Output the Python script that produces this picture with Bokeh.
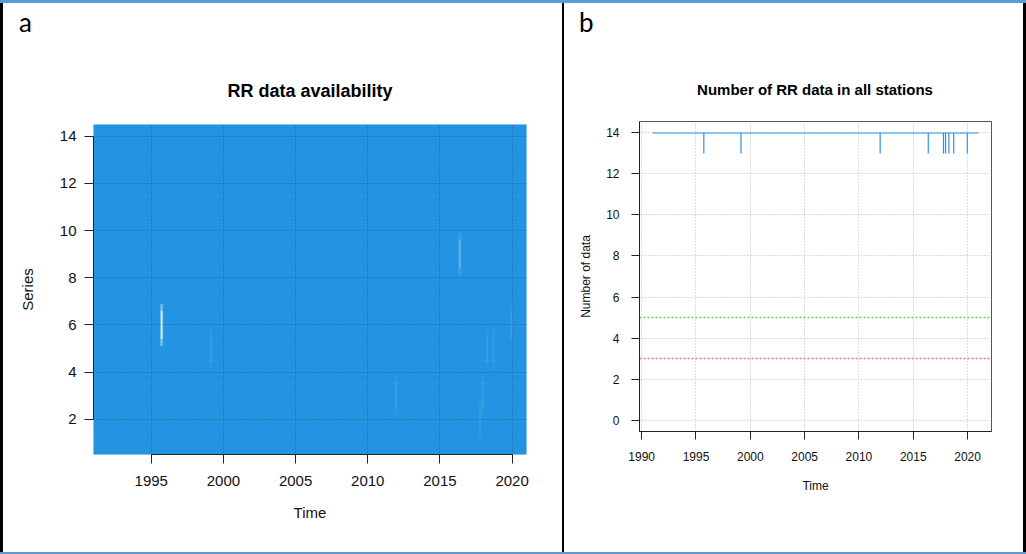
from bokeh.plotting import figure
from bokeh.models import Range1d, FixedTicker, Span, Div, ColumnDataSource
from bokeh.layouts import row, column
from bokeh.embed import file_html
from bokeh.resources import INLINE

# ---------------- data ----------------
series_ids = list(range(1, 15))              # 14 stations
series_start = [1991.0] * 14                 # first year of record
series_end = [2021.0] * 14                   # last year of record

# gaps (decimal year, station, number of missing days)
missing_dates = [1995.72, 1999.14, 2011.95, 2016.38, 2017.78, 2017.97, 2018.28, 2018.72, 2019.97]
missing_series = [6, 5, 3, 9, 2, 3, 5, 5, 6]
missing_days = [6, 1, 1, 3, 1, 1, 1, 1, 1]

threshold_levels = [5, 3]                    # green, red reference lines

a_xticks = [1995, 2000, 2005, 2010, 2015, 2020]
a_yticks = [2, 4, 6, 8, 10, 12, 14]
b_xticks = [1990, 1995, 2000, 2005, 2010, 2015, 2020]
b_yticks = [0, 2, 4, 6, 8, 10, 12, 14]

title_a = "RR data availability"
title_b = "Number of RR data in all stations"
panel_labels = ["a", "b"]

# ---------------- styles ----------------
FONT = "Liberation Sans"
BLUE = "#2294e2"
LINE_BLUE = "#2a93e6"


def header(w, h, letter, letter_left, letter_top, title, title_cx, title_top, title_px):
    html = (
        f'<div style="position:relative;width:{w}px;height:{h}px;overflow:hidden;">'
        f'<div style="position:absolute;left:{letter_left}px;top:{letter_top}px;'
        f'font-family:Lato;font-size:26px;line-height:26px;color:#000;">{letter}</div>'
        f'<div style="position:absolute;left:{title_cx - 200}px;top:{title_top}px;width:400px;'
        f"text-align:center;font-family:'Liberation Sans';font-weight:bold;"
        f'font-size:{title_px}px;line-height:{title_px}px;color:#000;white-space:nowrap;">'
        f'{title}</div></div>')
    return Div(text=html, width=w, height=h, margin=0)


def bar(w, h, color):
    return Div(text="", width=w, height=h, margin=0,
               styles={"background-color": color, "overflow": "hidden"})


# ---------------- panel a ----------------
pa = figure(width=559, height=444, output_backend="svg", toolbar_location=None,
            x_range=Range1d(1991.0, 2021.0), y_range=Range1d(0.5, 14.5),
            min_border_left=90, min_border_right=36, min_border_top=16, min_border_bottom=98)
pa.outline_line_color = None
pa.background_fill_color = "white"
pa.border_fill_color = "white"

src_a = ColumnDataSource(dict(
    x=[(s + e) / 2 for s, e in zip(series_start, series_end)],
    w=[e - s for s, e in zip(series_start, series_end)],
    y=series_ids))
pa.rect(x="x", y="y", width="w", height=1, source=src_a,
        fill_color=BLUE, line_color=BLUE, line_width=0.8)

# gaps: a soft outer streak plus a brighter core
gap_alpha = [min(0.72, 0.06 + 0.0185 * d * d) for d in missing_days]
src_gap = ColumnDataSource(dict(
    x=missing_dates, y=missing_series,
    a=gap_alpha, a2=[0.45 * v for v in gap_alpha]))
pa.rect(x="x", y="y", width=3.0, width_units="screen", height=1.8, source=src_gap,
        fill_color="white", fill_alpha="a2", line_color=None)
pa.rect(x="x", y="y", width=1.6, width_units="screen", height=1.2, source=src_gap,
        fill_color="white", fill_alpha="a", line_color=None)

for ax, ticks in ((pa.xaxis[0], a_xticks), (pa.yaxis[0], a_yticks)):
    ax.ticker = FixedTicker(ticks=ticks)
    ax.bounds = (ticks[0], ticks[-1])
    ax.major_tick_out = 9
    ax.major_tick_in = 0
    ax.minor_tick_out = 0
    ax.minor_tick_in = 0
    ax.axis_line_color = "#222222"
    ax.major_tick_line_color = "#222222"
    ax.major_label_text_font = FONT
    ax.major_label_text_font_size = "15px"
    ax.major_label_text_color = "#111111"
    ax.axis_label_text_font = FONT
    ax.axis_label_text_font_size = "15px"
    ax.axis_label_text_font_style = "normal"
    ax.axis_label_text_color = "#111111"
pa.xaxis.axis_label = "Time"
pa.yaxis.axis_label = "Series"
pa.xaxis.major_label_standoff = 12
pa.xaxis.axis_label_standoff = 15
pa.yaxis.major_label_standoff = 8
pa.yaxis.axis_label_standoff = 21

pa.xgrid.ticker = FixedTicker(ticks=a_xticks)
pa.ygrid.ticker = FixedTicker(ticks=a_yticks)
for g in (pa.xgrid[0], pa.ygrid[0]):
    g.grid_line_color = "#404040"
    g.grid_line_alpha = 0.6
    g.grid_line_dash = "1 2"
    g.grid_line_width = 1
    g.level = "guide"

# ---------------- panel b ----------------
pb = figure(width=459, height=424, output_backend="svg", toolbar_location=None,
            x_range=Range1d(1989.8, 2022.2), y_range=Range1d(-0.56, 14.56),
            min_border_left=75, min_border_right=32, min_border_top=16, min_border_bottom=98)
pb.outline_line_color = "#555555"
pb.outline_line_width = 1
pb.background_fill_color = "white"
pb.border_fill_color = "white"

pb.xgrid.ticker = FixedTicker(ticks=b_xticks)
pb.ygrid.ticker = FixedTicker(ticks=b_yticks)
for g in (pb.xgrid[0], pb.ygrid[0]):
    g.grid_line_color = "#b8b8b8"
    g.grid_line_dash = "1 2"
    g.grid_line_width = 1

n_total = len(series_ids)
events = sorted(set(missing_dates))
xs = [min(series_start)]
ys = [n_total]
for d in events:
    c = n_total - sum(1 for m in missing_dates if m == d)
    xs += [d, d, d]
    ys += [n_total, c, n_total]
xs.append(max(series_end))
ys.append(n_total)
pb.line(xs, ys, line_color=LINE_BLUE, line_width=1.2)

for lvl, col in zip(threshold_levels, ["#5cbf5c", "#ff5c5c"]):
    pb.add_layout(Span(location=lvl, dimension="width", line_color=col,
                       line_dash="2 2", line_width=1.4, line_alpha=0.9))

for ax, ticks in ((pb.xaxis[0], b_xticks), (pb.yaxis[0], b_yticks)):
    ax.ticker = FixedTicker(ticks=ticks)
    ax.major_tick_out = 8
    ax.major_tick_in = 0
    ax.minor_tick_out = 0
    ax.minor_tick_in = 0
    ax.axis_line_color = "#222222"
    ax.major_tick_line_color = "#222222"
    ax.major_label_text_font = FONT
    ax.major_label_text_font_size = "12px"
    ax.major_label_text_color = "#111111"
    ax.axis_label_text_font = FONT
    ax.axis_label_text_font_size = "12px"
    ax.axis_label_text_font_style = "normal"
    ax.axis_label_text_color = "#111111"
pb.xaxis.axis_label = "Time"
pb.yaxis.axis_label = "Number of data"
pb.xaxis.major_label_standoff = 12
pb.xaxis.axis_label_standoff = 15
pb.yaxis.major_label_standoff = 12
pb.yaxis.axis_label_standoff = 10

# ---------------- page layout ----------------
head_a = header(559, 105, panel_labels[0], 16, 6, title_a, 307, 79, 18)
head_b = header(459, 102, panel_labels[1], 15, 6, title_b, 251, 79, 15)

panel_a = column(head_a, pa, spacing=0)
panel_b = column(head_b, pb, bar(459, 23, "white"), spacing=0)

layout = column(
    bar(1026, 3, "#5b9bd5"),
    row(bar(3, 549, "black"), panel_a, bar(2, 549, "black"), panel_b, bar(3, 549, "black"),
        spacing=0),
    bar(1026, 2, "#5b9bd5"),
    spacing=0)

open("out.html", "w").write(file_html(layout, INLINE))
